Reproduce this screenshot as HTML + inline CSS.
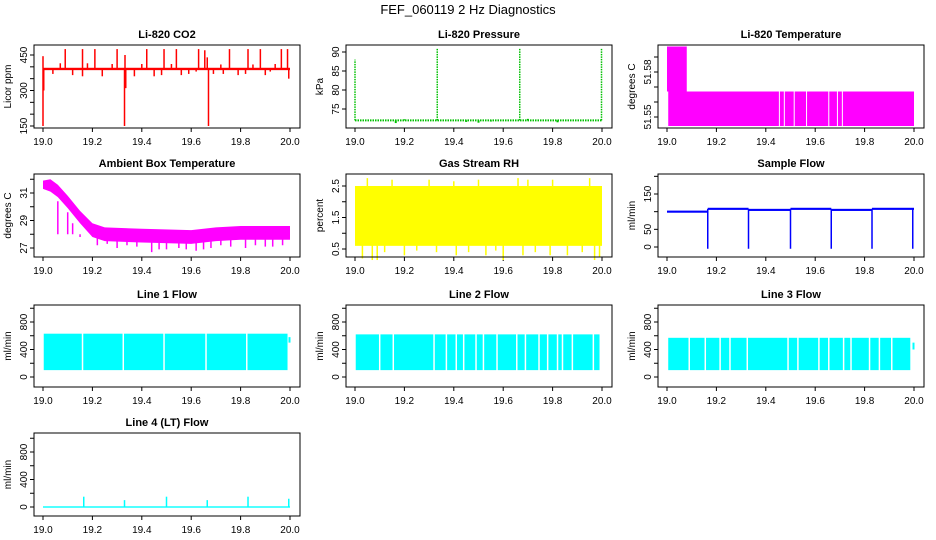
<!DOCTYPE html>
<html><head><meta charset="utf-8"><style>
body{margin:0;background:#fff;}
svg{display:block;font-family:"Liberation Sans",sans-serif;}
</style></head><body>
<svg id="c" width="936" height="540" viewBox="0 0 936 540">
<text x="468" y="14" text-anchor="middle" font-size="13">FEF_060119  2 Hz Diagnostics</text>
</svg>
<script>
// ---- data (x in fractional day, y in panel units) ----
const xTicks = [19.0,19.2,19.4,19.6,19.8,20.0];
const panelTitles = ["Li-820 CO2","Li-820 Pressure","Li-820 Temperature","Ambient Box Temperature","Gas Stream RH","Sample Flow","Line 1 Flow","Line 2 Flow","Line 3 Flow","Line 4 (LT) Flow"];
const yTitles = ["Licor ppm","kPa","degrees C","degrees C","percent","ml/min","ml/min","ml/min","ml/min","ml/min"];
// CO2
const co2Band = [[19.0,20.0,386,396]];
const co2Spikes = [[19.0,150],[19.003,300],[19.0,445],[19.09,475],[19.16,475],[19.21,475],[19.30,475],[19.33,150],[19.335,310],[19.332,450],[19.42,475],[19.49,475],[19.54,475],[19.63,475],[19.655,470],[19.665,440],[19.67,150],[19.755,475],[19.83,475],[19.88,475],[19.965,475],[19.99,475],[19.995,350],[19.04,370],[19.12,365],[19.16,360],[19.24,360],[19.37,360],[19.45,360],[19.48,365],[19.56,365],[19.59,370],[19.62,380],[19.69,370],[19.73,370],[19.79,365],[19.82,370],[19.9,365],[19.92,380],[19.07,415],[19.18,415],[19.28,412],[19.4,412],[19.52,412],[19.72,410],[19.85,410],[19.94,412]];
// Pressure
const presBase = [[19.0,72],[20.0,72]];
const presSpikes = [[19.0,88],[19.333,91],[19.667,91],[19.998,91]];
const presBumps = [[19.2,72.3],[19.45,71.6],[19.5,71.4],[19.55,71.7],[19.7,72.4],[19.82,71.5],[19.165,71.3]];
// Li-820 temperature
const tempBlocks = [[19.0,19.08,51.567,51.597],[19.005,20.0,51.544,51.567]];
const tempGaps = [19.455,19.475,19.515,19.565,19.655,19.69,19.71];
// Ambient temperature band edges
const ambX = [19.0,19.03,19.06,19.1,19.15,19.2,19.25,19.4,19.6,19.7,19.8,20.0];
const ambHi = [31.9,32.0,31.6,30.8,29.7,28.8,28.5,28.4,28.3,28.5,28.6,28.6];
const ambLo = [31.3,31.1,30.7,29.9,28.8,27.8,27.5,27.4,27.3,27.5,27.6,27.6];
const ambSpikes = [[19.06,30.4],[19.1,29.6],[19.12,28.8],[19.15,27.8],[19.22,27.2],[19.3,27.0],[19.38,27.1],[19.44,26.7],[19.5,26.9],[19.55,27.0],[19.62,26.8],[19.68,27.0],[19.76,27.1],[19.82,27.0],[19.9,27.1],[19.97,27.2],[19.26,27.3],[19.34,27.2],[19.47,26.9],[19.58,26.9],[19.65,26.9],[19.72,27.2],[19.86,27.2],[19.93,27.1]];
// RH
const rhBand = [[19.0,20.0,0.6,2.5]];
const rhSpikesUp = [[19.05,2.75],[19.15,2.7],[19.3,2.7],[19.5,2.7],[19.66,2.75],[19.8,2.7],[19.95,2.75],[19.4,2.65],[19.7,2.7]];
const rhSpikesDn = [[19.03,0.2],[19.07,0.15],[19.09,0.15],[19.2,0.3],[19.33,0.4],[19.41,0.3],[19.53,0.3],[19.6,0.15],[19.68,0.3],[19.79,0.3],[19.86,0.3],[19.97,0.15],[19.99,0.25],[19.12,0.4],[19.25,0.45],[19.46,0.4],[19.57,0.45],[19.73,0.4],[19.92,0.4]];
// Sample flow
const sfSeg = [[19.0,19.165,100],[19.165,19.33,108],[19.33,19.5,105],[19.5,19.665,108],[19.665,19.83,105],[19.83,20.0,108]];
const sfDrops = [19.165,19.33,19.5,19.665,19.83,19.995];
// Line flows
const l1Band = [19.003,19.99,100,630];
const l1Gaps = [19.16,19.325,19.49,19.66,19.825];
const l2Band = [19.003,19.99,100,620];
const l2Gaps = [19.1,19.155,19.32,19.37,19.41,19.44,19.49,19.52,19.575,19.655,19.69,19.745,19.78,19.82,19.84,19.88,19.965];
const l3Band = [19.005,19.985,100,570];
const l3Gaps = [19.09,19.155,19.215,19.255,19.325,19.49,19.53,19.615,19.655,19.715,19.745,19.82,19.86,19.91];
const l4Spikes = [[19.165,150],[19.33,100],[19.5,150],[19.665,100],[19.83,150],[19.995,120]];

// ---- layout ----
const svg = document.getElementById('c');
const NS = 'http://www.w3.org/2000/svg';
const colBox = [[34,300,43,290],[346,612,355,602],[658,924,667,914]];
const rowBox = [[45,128],[174,257],[305,387],[433,516]];
const yCal = [
 [150,126,450,55,[150,200,250,300,350,400,450],[150,300,450]],
 [75,109,90,52,[75,80,85,90],[75,80,85,90]],
 [51.55,117,51.58,72,[51.55,51.56,51.57,51.58,51.59],[51.55,51.58]],
 [27,248,31,193,[27,28,29,30,31,32],[27,29,31]],
 [0.5,249,2.5,186,[0.5,1,1.5,2,2.5],[0.5,1.5,2.5]],
 [0,247,150,194,[0,50,100,150,200],[0,50,150]],
 [0,377,800,322,[0,200,400,600,800,1000],[0,400,800]],
 [0,377,800,322,[0,200,400,600,800,1000],[0,400,800]],
 [0,377,800,322,[0,200,400,600,800,1000],[0,400,800]],
 [0,507,800,452,[0,200,400,600,800,1000],[0,400,800]]
];
function mk(tag, attrs, parent){const e=document.createElementNS(NS,tag);for(const k in attrs)e.setAttribute(k,attrs[k]);(parent||svg).appendChild(e);return e;}
const P=[];
for(let i=0;i<10;i++){
 const c=colBox[i%3], r=rowBox[Math.floor(i/3)], yc=yCal[i];
 const g=mk('g',{});
 
 
 const X=v=>c[2]+(v-19)*(c[3]-c[2]);
 const Y=v=>yc[1]+(v-yc[0])*(yc[3]-yc[1])/(yc[2]-yc[0]);
 P.push({g,X,Y,c,r});
 const t=mk('text',{x:(c[0]+c[1])/2,y:r[0]-7,'text-anchor':'middle','font-size':11,'font-weight':'bold'},g);
 t.textContent=panelTitles[i];
 
 
 const yt=mk('text',{x:0,y:0,transform:`translate(${c[0]-23},${(r[0]+r[1])/2}) rotate(-90)`,'text-anchor':'middle','font-size':10},g);
 yt.textContent=yTitles[i];
 
 
 yc[4].forEach(v=>{mk('line',{x1:c[0]-4,x2:c[0],y1:Y(v),y2:Y(v),stroke:'#000'},g);});
 yc[5].forEach(v=>{const l=mk('text',{x:0,y:0,transform:`translate(${c[0]-7},${Y(v)}) rotate(-90)`,'text-anchor':'middle','font-size':10},g);l.textContent=String(v);
  
  });
 xTicks.forEach(v=>{mk('line',{x1:X(v),x2:X(v),y1:r[1],y2:r[1]+4,stroke:'#000'},g);
  const l=mk('text',{x:X(v),y:r[1]+17,'text-anchor':'middle','font-size':10},g);l.textContent=v.toFixed(1);
  
  });
}
function rect(p,x1,x2,v1,v2,col,name){const y1=p.Y(v1),y2=p.Y(v2);const e=mk('rect',{x:Math.min(p.X(x1),p.X(x2)),y:Math.min(y1,y2),width:Math.abs(p.X(x2)-p.X(x1)),height:Math.max(1,Math.abs(y2-y1)),fill:col},p.g);
 
 return e;}
function vl(p,x,v1,v2,col,w,name){const e=mk('line',{x1:p.X(x),x2:p.X(x),y1:p.Y(v1),y2:p.Y(v2),stroke:col,'stroke-width':w||1},p.g);
 
 return e;}
function gapBand(p,band,gaps,col,name){
 let s=band[0];const pts=gaps.concat([band[1]]);
 pts.forEach((gx,k)=>{const e=k<gaps.length?gx-0.003:gx;rect(p,s,e,band[2],band[3],col,name);s=gx+0.003;});
}
// CO2
{const p=P[0],col='#ff0000';co2Band.forEach(b=>rect(p,b[0],b[1],b[2],b[3],col,'co2-band'));
 co2Spikes.forEach(s=>vl(p,s[0],391,s[1],col,1.5,'co2-spike'));}
// Pressure
{const p=P[1],col='#00c000';
 const e=mk('line',{x1:p.X(presBase[0][0]),x2:p.X(presBase[1][0]),y1:p.Y(presBase[0][1]),y2:p.Y(presBase[1][1]),stroke:col,'stroke-width':2,'stroke-dasharray':'1.5 1'},p.g);
 
 
 presBumps.forEach(s=>vl(p,s[0],72,s[1],col,2,'pressure-bump'));
 presSpikes.forEach(s=>{const l=vl(p,s[0],72,s[1],col,1.5,'pressure-spike');l.setAttribute('stroke-dasharray','1.5 1');});}
// Li temp
{const p=P[2],col='#ff00ff';tempBlocks.forEach(b=>rect(p,b[0],b[1],b[2],b[3],col,'temp-block'));
 tempGaps.forEach(gx=>rect(p,gx-0.002,gx+0.002,51.544,51.567,'#ffffff','temp-gap'));}
// Ambient
{const p=P[3],col='#ff00ff';let d='';
 ambX.forEach((x,k)=>{d+=(k?'L':'M')+p.X(x)+','+p.Y(ambHi[k]);});
 for(let k=ambX.length-1;k>=0;k--)d+='L'+p.X(ambX[k])+','+p.Y(ambLo[k]);
 const e=mk('path',{d:d+'Z',fill:col},p.g);
 
 
 ambSpikes.forEach(s=>vl(p,s[0],28,s[1],col,1.5,'ambient-spike'));}
// RH
{const p=P[4],col='#ffff00';rhBand.forEach(b=>rect(p,b[0],b[1],b[2],b[3],col,'rh-band'));
 rhSpikesUp.forEach(s=>vl(p,s[0],2.4,s[1],col,1.5,'rh-spike'));
 rhSpikesDn.forEach(s=>vl(p,s[0],0.7,s[1],col,1.5,'rh-spike'));}
// Sample flow
{const p=P[5],col='#0000ff';sfSeg.forEach(s=>rect(p,s[0],s[1],s[2]-3,s[2]+3,col,'sample-flow-segment'));
 sfDrops.forEach(x=>vl(p,x,108,-5,col,1.5,'sample-flow-drop'));}
// Lines
gapBand(P[6],l1Band,l1Gaps,'#00ffff','line1-band');
gapBand(P[7],l2Band,l2Gaps,'#00ffff','line2-band');
gapBand(P[8],l3Band,l3Gaps,'#00ffff','line3-band');
vl(P[6],19.998,500,580,'#00ffff',2,'line1-tail');
vl(P[8],19.998,400,500,'#00ffff',2,'line3-tail');
{const p=P[9],col='#00ffff';rect(p,19.0,20.0,-10,10,col,'line4-base');
 l4Spikes.forEach(s=>vl(p,s[0],0,s[1],col,1.5,'line4-spike'));}
// boxes on top
P.forEach(p=>{const b=mk('rect',{x:p.c[0],y:p.r[0],width:p.c[1]-p.c[0],height:p.r[1]-p.r[0],fill:'none',stroke:'#000'},p.g);
 
 });
</script>
</body></html>
